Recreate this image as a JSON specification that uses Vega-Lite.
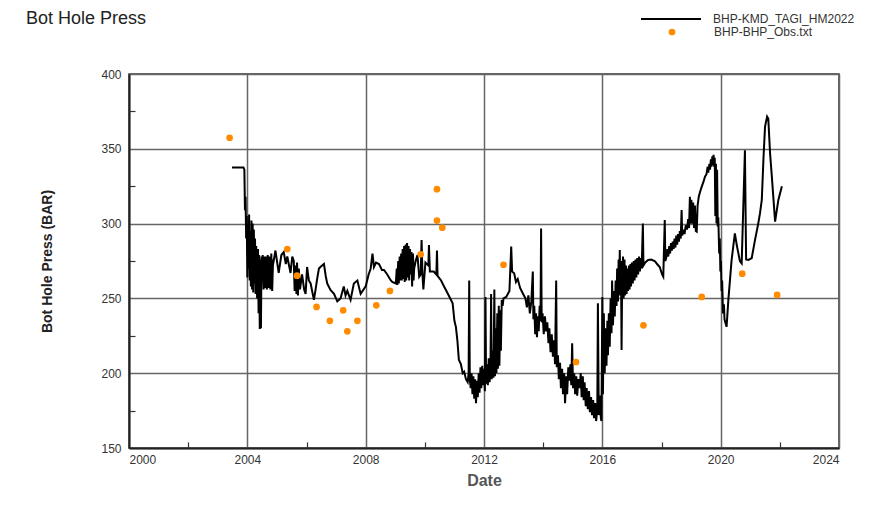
{
  "$schema": "https://vega.github.io/schema/vega-lite/v6.json",
  "width": 710,
  "height": 374,
  "autosize": {"type": "none"},
  "padding": {"left": 129, "top": 74, "right": 31, "bottom": 66},
  "background": "white",
  "title": {
    "text": "Bot Hole Press",
    "anchor": "start",
    "frame": "group",
    "dx": -103,
    "offset": 0,
    "dy": 40,
    "font": "Liberation Sans",
    "fontSize": 18,
    "fontWeight": "normal",
    "color": "#222"
  },
  "config": {
    "view": {"stroke": "#333", "strokeWidth": 1.5},
    "axis": {
      "labelFont": "Liberation Sans",
      "labelFontSize": 12,
      "labelColor": "#333",
      "titleFont": "Liberation Sans",
      "gridColor": "#666",
      "gridWidth": 1.5,
      "gridOpacity": 1,
      "domainColor": "#222",
      "domainWidth": 2,
      "tickColor": "#333",
      "tickWidth": 1.2
    },
    "legend": {
      "labelFont": "Liberation Sans",
      "labelFontSize": 12,
      "labelColor": "#333"
    }
  },
  "datasets": {
    "sim": [
      {"t": 2003.48, "v": 337.5}, {"t": 2003.87, "v": 337.5}, {"t": 2003.90, "v": 336},
      {"t": 2003.92, "v": 309}, {"t": 2003.94, "v": 318}, {"t": 2003.96, "v": 290},
      {"t": 2003.98, "v": 305}, {"t": 2004.00, "v": 264}, {"t": 2004.02, "v": 300},
      {"t": 2004.04, "v": 270}, {"t": 2004.06, "v": 306}, {"t": 2004.08, "v": 262},
      {"t": 2004.10, "v": 295}, {"t": 2004.12, "v": 258}, {"t": 2004.14, "v": 302},
      {"t": 2004.16, "v": 256}, {"t": 2004.18, "v": 300}, {"t": 2004.20, "v": 254},
      {"t": 2004.22, "v": 296}, {"t": 2004.24, "v": 260}, {"t": 2004.26, "v": 290},
      {"t": 2004.28, "v": 253}, {"t": 2004.30, "v": 285}, {"t": 2004.33, "v": 250},
      {"t": 2004.36, "v": 283}, {"t": 2004.38, "v": 240}, {"t": 2004.40, "v": 279},
      {"t": 2004.42, "v": 229.5}, {"t": 2004.44, "v": 276}, {"t": 2004.46, "v": 230},
      {"t": 2004.48, "v": 278}, {"t": 2004.50, "v": 262}, {"t": 2004.52, "v": 279},
      {"t": 2004.55, "v": 256}, {"t": 2004.58, "v": 278}, {"t": 2004.60, "v": 257},
      {"t": 2004.63, "v": 278}, {"t": 2004.66, "v": 256}, {"t": 2004.69, "v": 279},
      {"t": 2004.72, "v": 257}, {"t": 2004.75, "v": 278}, {"t": 2004.78, "v": 256},
      {"t": 2004.81, "v": 280}, {"t": 2004.84, "v": 255}, {"t": 2004.87, "v": 276},
      {"t": 2004.89, "v": 275}, {"t": 2004.95, "v": 282}, {"t": 2005.06, "v": 267},
      {"t": 2005.15, "v": 279}, {"t": 2005.23, "v": 281}, {"t": 2005.30, "v": 273},
      {"t": 2005.35, "v": 278}, {"t": 2005.46, "v": 267}, {"t": 2005.52, "v": 278},
      {"t": 2005.57, "v": 275}, {"t": 2005.60, "v": 255}, {"t": 2005.63, "v": 272},
      {"t": 2005.66, "v": 253}, {"t": 2005.68, "v": 274}, {"t": 2005.71, "v": 252},
      {"t": 2005.74, "v": 270}, {"t": 2005.78, "v": 256}, {"t": 2005.85, "v": 266},
      {"t": 2005.92, "v": 256}, {"t": 2005.97, "v": 253}, {"t": 2006.02, "v": 271},
      {"t": 2006.08, "v": 262}, {"t": 2006.14, "v": 260}, {"t": 2006.25, "v": 249},
      {"t": 2006.30, "v": 255}, {"t": 2006.36, "v": 263}, {"t": 2006.42, "v": 270},
      {"t": 2006.47, "v": 271}, {"t": 2006.59, "v": 273}, {"t": 2006.65, "v": 265},
      {"t": 2006.70, "v": 260}, {"t": 2006.81, "v": 255.6}, {"t": 2006.93, "v": 253},
      {"t": 2007.04, "v": 248}, {"t": 2007.15, "v": 250}, {"t": 2007.26, "v": 258},
      {"t": 2007.32, "v": 252}, {"t": 2007.38, "v": 255}, {"t": 2007.49, "v": 249},
      {"t": 2007.60, "v": 260}, {"t": 2007.72, "v": 262}, {"t": 2007.83, "v": 253},
      {"t": 2008.00, "v": 258}, {"t": 2008.10, "v": 266}, {"t": 2008.17, "v": 270},
      {"t": 2008.23, "v": 280}, {"t": 2008.28, "v": 271}, {"t": 2008.35, "v": 274},
      {"t": 2008.45, "v": 273}, {"t": 2008.55, "v": 269}, {"t": 2008.62, "v": 269},
      {"t": 2008.73, "v": 266}, {"t": 2008.85, "v": 262}, {"t": 2008.90, "v": 261},
      {"t": 2009.02, "v": 260}, {"t": 2009.05, "v": 270}, {"t": 2009.07, "v": 259},
      {"t": 2009.10, "v": 275}, {"t": 2009.12, "v": 260}, {"t": 2009.15, "v": 278},
      {"t": 2009.17, "v": 262}, {"t": 2009.20, "v": 280}, {"t": 2009.22, "v": 262},
      {"t": 2009.25, "v": 283}, {"t": 2009.27, "v": 263}, {"t": 2009.30, "v": 285},
      {"t": 2009.32, "v": 261}, {"t": 2009.35, "v": 286}, {"t": 2009.37, "v": 262},
      {"t": 2009.40, "v": 287}, {"t": 2009.42, "v": 264}, {"t": 2009.45, "v": 285},
      {"t": 2009.47, "v": 262}, {"t": 2009.50, "v": 283}, {"t": 2009.52, "v": 266},
      {"t": 2009.55, "v": 281}, {"t": 2009.57, "v": 258}, {"t": 2009.60, "v": 280},
      {"t": 2009.62, "v": 262}, {"t": 2009.64, "v": 270}, {"t": 2009.69, "v": 275},
      {"t": 2009.75, "v": 279}, {"t": 2009.81, "v": 264.5}, {"t": 2009.86, "v": 266},
      {"t": 2009.89, "v": 289}, {"t": 2009.92, "v": 266}, {"t": 2009.95, "v": 256},
      {"t": 2010.02, "v": 274}, {"t": 2010.12, "v": 272}, {"t": 2010.14, "v": 285.7},
      {"t": 2010.17, "v": 268}, {"t": 2010.30, "v": 268}, {"t": 2010.39, "v": 266},
      {"t": 2010.41, "v": 282}, {"t": 2010.43, "v": 265}, {"t": 2010.55, "v": 262},
      {"t": 2010.65, "v": 258}, {"t": 2010.77, "v": 253.4}, {"t": 2010.94, "v": 246.7},
      {"t": 2011.00, "v": 235}, {"t": 2011.05, "v": 231}, {"t": 2011.10, "v": 222},
      {"t": 2011.15, "v": 209}, {"t": 2011.22, "v": 206}, {"t": 2011.28, "v": 200},
      {"t": 2011.33, "v": 201}, {"t": 2011.39, "v": 196}, {"t": 2011.45, "v": 194},
      {"t": 2011.48, "v": 200}, {"t": 2011.50, "v": 262}, {"t": 2011.52, "v": 196},
      {"t": 2011.55, "v": 190}, {"t": 2011.58, "v": 200}, {"t": 2011.61, "v": 186},
      {"t": 2011.64, "v": 198}, {"t": 2011.67, "v": 183}, {"t": 2011.70, "v": 196},
      {"t": 2011.73, "v": 180}, {"t": 2011.76, "v": 195}, {"t": 2011.79, "v": 184},
      {"t": 2011.82, "v": 200}, {"t": 2011.85, "v": 187}, {"t": 2011.88, "v": 204},
      {"t": 2011.91, "v": 190}, {"t": 2011.94, "v": 205}, {"t": 2011.97, "v": 192},
      {"t": 2012.00, "v": 203}, {"t": 2012.03, "v": 188}, {"t": 2012.05, "v": 251},
      {"t": 2012.07, "v": 193}, {"t": 2012.10, "v": 206}, {"t": 2012.13, "v": 192},
      {"t": 2012.16, "v": 210}, {"t": 2012.19, "v": 194}, {"t": 2012.22, "v": 205},
      {"t": 2012.24, "v": 253}, {"t": 2012.26, "v": 196}, {"t": 2012.29, "v": 215},
      {"t": 2012.32, "v": 197}, {"t": 2012.35, "v": 256}, {"t": 2012.37, "v": 198},
      {"t": 2012.40, "v": 230}, {"t": 2012.42, "v": 200}, {"t": 2012.45, "v": 240},
      {"t": 2012.47, "v": 203}, {"t": 2012.50, "v": 245}, {"t": 2012.52, "v": 205},
      {"t": 2012.55, "v": 242}, {"t": 2012.57, "v": 215}, {"t": 2012.60, "v": 249},
      {"t": 2012.63, "v": 245}, {"t": 2012.66, "v": 250}, {"t": 2012.75, "v": 251},
      {"t": 2012.86, "v": 255}, {"t": 2012.92, "v": 284.6}, {"t": 2012.95, "v": 268},
      {"t": 2013.02, "v": 266.8}, {"t": 2013.08, "v": 261}, {"t": 2013.14, "v": 263},
      {"t": 2013.22, "v": 257}, {"t": 2013.31, "v": 253.4}, {"t": 2013.40, "v": 250},
      {"t": 2013.45, "v": 244}, {"t": 2013.50, "v": 252}, {"t": 2013.55, "v": 240},
      {"t": 2013.60, "v": 248}, {"t": 2013.65, "v": 267.9}, {"t": 2013.67, "v": 236},
      {"t": 2013.70, "v": 245}, {"t": 2013.73, "v": 226}, {"t": 2013.76, "v": 240},
      {"t": 2013.79, "v": 224}, {"t": 2013.82, "v": 238}, {"t": 2013.85, "v": 228},
      {"t": 2013.88, "v": 245}, {"t": 2013.91, "v": 235}, {"t": 2013.93, "v": 296.8},
      {"t": 2013.95, "v": 234}, {"t": 2013.98, "v": 240}, {"t": 2014.02, "v": 226},
      {"t": 2014.06, "v": 238}, {"t": 2014.10, "v": 228}, {"t": 2014.14, "v": 234},
      {"t": 2014.18, "v": 220}, {"t": 2014.21, "v": 230}, {"t": 2014.25, "v": 214},
      {"t": 2014.29, "v": 226}, {"t": 2014.33, "v": 211}, {"t": 2014.37, "v": 222},
      {"t": 2014.40, "v": 206}, {"t": 2014.44, "v": 262}, {"t": 2014.46, "v": 204},
      {"t": 2014.50, "v": 212}, {"t": 2014.53, "v": 196}, {"t": 2014.57, "v": 207},
      {"t": 2014.60, "v": 190}, {"t": 2014.64, "v": 203}, {"t": 2014.67, "v": 186},
      {"t": 2014.71, "v": 200}, {"t": 2014.74, "v": 180}, {"t": 2014.78, "v": 198},
      {"t": 2014.81, "v": 186}, {"t": 2014.85, "v": 204}, {"t": 2014.89, "v": 195},
      {"t": 2014.92, "v": 206}, {"t": 2014.95, "v": 192}, {"t": 2014.98, "v": 220},
      {"t": 2015.01, "v": 190}, {"t": 2015.05, "v": 200}, {"t": 2015.08, "v": 186},
      {"t": 2015.12, "v": 198}, {"t": 2015.15, "v": 185}, {"t": 2015.19, "v": 196},
      {"t": 2015.23, "v": 190}, {"t": 2015.27, "v": 200}, {"t": 2015.30, "v": 184},
      {"t": 2015.34, "v": 198}, {"t": 2015.37, "v": 182}, {"t": 2015.40, "v": 194},
      {"t": 2015.44, "v": 178}, {"t": 2015.47, "v": 190}, {"t": 2015.51, "v": 176},
      {"t": 2015.55, "v": 188}, {"t": 2015.58, "v": 174}, {"t": 2015.62, "v": 184},
      {"t": 2015.65, "v": 172}, {"t": 2015.69, "v": 182}, {"t": 2015.72, "v": 170},
      {"t": 2015.76, "v": 180}, {"t": 2015.79, "v": 168}, {"t": 2015.83, "v": 176},
      {"t": 2015.85, "v": 246.7}, {"t": 2015.88, "v": 172}, {"t": 2015.92, "v": 185},
      {"t": 2015.95, "v": 170}, {"t": 2015.97, "v": 168}, {"t": 2016.00, "v": 251},
      {"t": 2016.02, "v": 186}, {"t": 2016.05, "v": 240}, {"t": 2016.08, "v": 200},
      {"t": 2016.11, "v": 230}, {"t": 2016.14, "v": 205}, {"t": 2016.17, "v": 235},
      {"t": 2016.19, "v": 212}, {"t": 2016.22, "v": 240}, {"t": 2016.25, "v": 217.7},
      {"t": 2016.28, "v": 250}, {"t": 2016.31, "v": 226.7}, {"t": 2016.33, "v": 262},
      {"t": 2016.36, "v": 232}, {"t": 2016.39, "v": 255}, {"t": 2016.42, "v": 238},
      {"t": 2016.45, "v": 262}, {"t": 2016.48, "v": 245}, {"t": 2016.50, "v": 270},
      {"t": 2016.53, "v": 248}, {"t": 2016.55, "v": 276}, {"t": 2016.57, "v": 252},
      {"t": 2016.59, "v": 282.4}, {"t": 2016.61, "v": 255}, {"t": 2016.63, "v": 275},
      {"t": 2016.65, "v": 215.5}, {"t": 2016.67, "v": 262}, {"t": 2016.70, "v": 278},
      {"t": 2016.72, "v": 250}, {"t": 2016.75, "v": 276}, {"t": 2016.77, "v": 252},
      {"t": 2016.80, "v": 272}, {"t": 2016.82, "v": 253}, {"t": 2016.85, "v": 270},
      {"t": 2016.87, "v": 255}, {"t": 2016.90, "v": 272}, {"t": 2016.92, "v": 256},
      {"t": 2016.95, "v": 273}, {"t": 2016.97, "v": 258}, {"t": 2017.00, "v": 274},
      {"t": 2017.03, "v": 260}, {"t": 2017.06, "v": 275}, {"t": 2017.09, "v": 262},
      {"t": 2017.12, "v": 276}, {"t": 2017.15, "v": 264}, {"t": 2017.18, "v": 277},
      {"t": 2017.21, "v": 266}, {"t": 2017.24, "v": 278}, {"t": 2017.27, "v": 268},
      {"t": 2017.30, "v": 277}, {"t": 2017.33, "v": 270}, {"t": 2017.37, "v": 300},
      {"t": 2017.39, "v": 272}, {"t": 2017.45, "v": 274}, {"t": 2017.55, "v": 275.7},
      {"t": 2017.65, "v": 276}, {"t": 2017.77, "v": 275}, {"t": 2017.85, "v": 273},
      {"t": 2017.94, "v": 271}, {"t": 2018.02, "v": 266}, {"t": 2018.06, "v": 264.5},
      {"t": 2018.11, "v": 302.4}, {"t": 2018.13, "v": 275}, {"t": 2018.17, "v": 278},
      {"t": 2018.20, "v": 283}, {"t": 2018.23, "v": 278}, {"t": 2018.26, "v": 285},
      {"t": 2018.29, "v": 280}, {"t": 2018.32, "v": 287}, {"t": 2018.35, "v": 282},
      {"t": 2018.38, "v": 288}, {"t": 2018.41, "v": 283}, {"t": 2018.44, "v": 290},
      {"t": 2018.47, "v": 284}, {"t": 2018.50, "v": 292}, {"t": 2018.53, "v": 286},
      {"t": 2018.56, "v": 293}, {"t": 2018.59, "v": 288}, {"t": 2018.62, "v": 295},
      {"t": 2018.65, "v": 290}, {"t": 2018.68, "v": 309}, {"t": 2018.70, "v": 292},
      {"t": 2018.74, "v": 296}, {"t": 2018.78, "v": 293}, {"t": 2018.82, "v": 299},
      {"t": 2018.86, "v": 296}, {"t": 2018.90, "v": 303}, {"t": 2018.93, "v": 297},
      {"t": 2018.96, "v": 318}, {"t": 2018.98, "v": 300}, {"t": 2019.01, "v": 316},
      {"t": 2019.04, "v": 300}, {"t": 2019.07, "v": 314}, {"t": 2019.10, "v": 297},
      {"t": 2019.13, "v": 312}, {"t": 2019.16, "v": 295}, {"t": 2019.19, "v": 294.6},
      {"t": 2019.22, "v": 312}, {"t": 2019.26, "v": 318}, {"t": 2019.30, "v": 321},
      {"t": 2019.36, "v": 324.7}, {"t": 2019.42, "v": 328}, {"t": 2019.47, "v": 331.4},
      {"t": 2019.52, "v": 333}, {"t": 2019.56, "v": 338}, {"t": 2019.58, "v": 334},
      {"t": 2019.62, "v": 340}, {"t": 2019.64, "v": 336}, {"t": 2019.67, "v": 343},
      {"t": 2019.69, "v": 338}, {"t": 2019.72, "v": 345}, {"t": 2019.74, "v": 339},
      {"t": 2019.76, "v": 346}, {"t": 2019.78, "v": 338}, {"t": 2019.80, "v": 344},
      {"t": 2019.82, "v": 305}, {"t": 2019.84, "v": 340}, {"t": 2019.86, "v": 300},
      {"t": 2019.88, "v": 336}, {"t": 2019.90, "v": 298}, {"t": 2019.92, "v": 304},
      {"t": 2019.95, "v": 280}, {"t": 2019.97, "v": 290}, {"t": 2019.99, "v": 268},
      {"t": 2020.01, "v": 275}, {"t": 2020.03, "v": 255}, {"t": 2020.05, "v": 262},
      {"t": 2020.08, "v": 240}, {"t": 2020.11, "v": 246}, {"t": 2020.13, "v": 236},
      {"t": 2020.17, "v": 233}, {"t": 2020.20, "v": 231}, {"t": 2020.26, "v": 249},
      {"t": 2020.37, "v": 275.7}, {"t": 2020.48, "v": 293.5}, {"t": 2020.55, "v": 285},
      {"t": 2020.65, "v": 275}, {"t": 2020.71, "v": 273.4}, {"t": 2020.82, "v": 349},
      {"t": 2020.86, "v": 276}, {"t": 2020.94, "v": 275.7}, {"t": 2021.05, "v": 277},
      {"t": 2021.16, "v": 289}, {"t": 2021.27, "v": 300}, {"t": 2021.33, "v": 307},
      {"t": 2021.39, "v": 315.8}, {"t": 2021.45, "v": 345}, {"t": 2021.50, "v": 364.8},
      {"t": 2021.57, "v": 371.5}, {"t": 2021.61, "v": 370}, {"t": 2021.67, "v": 347},
      {"t": 2021.73, "v": 331.4}, {"t": 2021.84, "v": 301.3}, {"t": 2021.95, "v": 315.8},
      {"t": 2022.07, "v": 325}
    ],
    "obs": [
      {"t": 2003.40, "v": 357.4}, {"t": 2005.35, "v": 283}, {"t": 2005.68, "v": 265.2},
      {"t": 2006.34, "v": 244.3}, {"t": 2006.79, "v": 235}, {"t": 2007.24, "v": 242},
      {"t": 2007.38, "v": 228}, {"t": 2007.72, "v": 235}, {"t": 2008.36, "v": 245.4},
      {"t": 2008.82, "v": 255}, {"t": 2009.86, "v": 279.5}, {"t": 2010.41, "v": 323},
      {"t": 2010.41, "v": 302}, {"t": 2010.59, "v": 297.3}, {"t": 2012.66, "v": 272.5},
      {"t": 2015.11, "v": 207.5}, {"t": 2017.39, "v": 232}, {"t": 2019.36, "v": 251},
      {"t": 2020.73, "v": 266.5}, {"t": 2021.91, "v": 252.3}
    ]
  },
  "layer": [
    {
      "data": {"name": "sim"},
      "mark": {"type": "line", "strokeWidth": 2, "interpolate": "linear"},
      "encoding": {
        "x": {
          "field": "t", "type": "quantitative",
          "scale": {"domain": [2000, 2024], "nice": false, "zero": false},
          "axis": {
            "values": [2000, 2004, 2008, 2012, 2016, 2020, 2024],
            "format": "d", "grid": true, "ticks": false, "domain": true,
            "labelPadding": 6, "title": "Date",
            "titleFontSize": 16, "titleFontWeight": "bold", "titleColor": "#555",
            "titleY": 32, "titleBaseline": "middle"
          }
        },
        "y": {
          "field": "v", "type": "quantitative",
          "scale": {"domain": [150, 400], "nice": false, "zero": false},
          "axis": {
            "values": [150, 200, 250, 300, 350, 400],
            "grid": true, "ticks": false, "domain": true,
            "labelPadding": 8, "title": "Bot Hole Press (BAR)",
            "titleFontSize": 14, "titleFontWeight": "bold", "titleColor": "#222",
            "titleX": -82, "titleY": 187, "titleBaseline": "middle"
          }
        },
        "stroke": {
          "datum": "BHP-KMD_TAGI_HM2022",
          "scale": {"range": ["#000000"]},
          "legend": {
            "title": null, "orient": "none", "legendX": 511, "legendY": -86,
            "symbolType": "stroke", "symbolSize": 3600, "symbolStrokeWidth": 2,
            "labelOffset": 11
          }
        }
      }
    },
    {
      "data": {"name": "obs"},
      "mark": {"type": "circle", "size": 45, "opacity": 1},
      "encoding": {
        "x": {
          "field": "t", "type": "quantitative",
          "axis": {
            "orient": "bottom",
            "values": [2002, 2006, 2010, 2014, 2018, 2022],
            "labels": false, "grid": false, "domain": false, "ticks": true,
            "tickSize": -6, "title": null
          }
        },
        "y": {
          "field": "v", "type": "quantitative",
          "axis": {
            "orient": "left",
            "values": [175, 225, 275, 325, 375],
            "labels": false, "grid": false, "domain": false, "ticks": true,
            "tickSize": -6, "title": null
          }
        },
        "fill": {
          "datum": "BHP-BHP_Obs.txt",
          "scale": {"range": ["#ff8c00"]},
          "legend": {
            "title": null, "orient": "none", "legendX": 537, "legendY": -48,
            "symbolType": "circle", "symbolSize": 45, "symbolStrokeWidth": 0,
            "labelOffset": 36
          }
        }
      }
    }
  ],
  "resolve": {"axis": {"x": "independent", "y": "independent"}}
}
